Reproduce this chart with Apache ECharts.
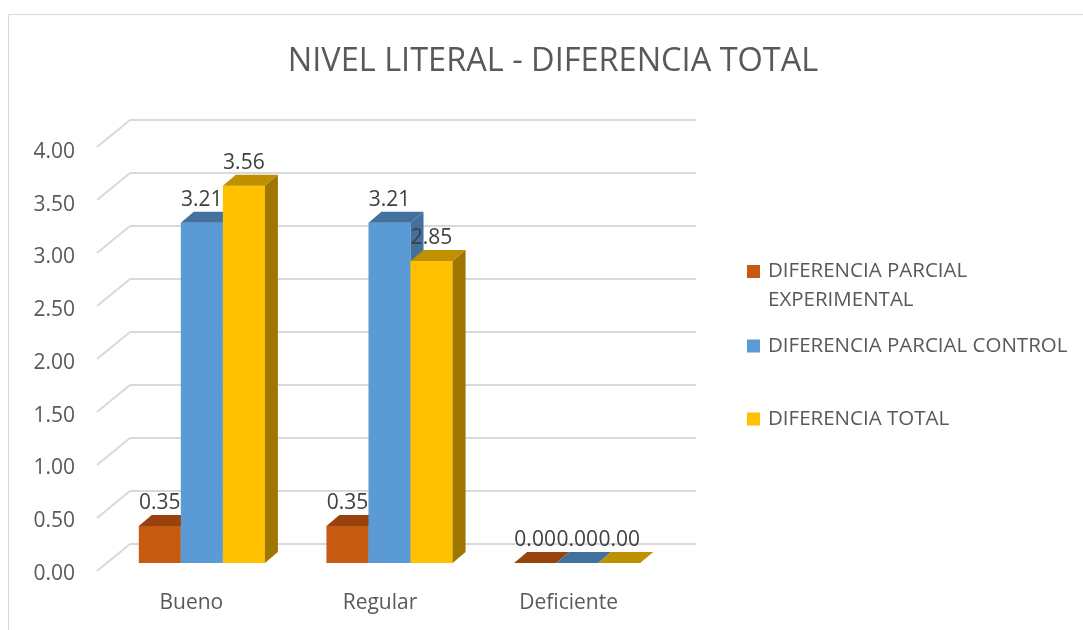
<!DOCTYPE html>
<html>
<head>
<meta charset="utf-8">
<script src="https://cdn.jsdelivr.net/npm/echarts@6/dist/echarts.min.js"></script>
<style>
html,body{margin:0;padding:0;background:#fff;}
#chart{width:1083px;height:630px;}
</style>
</head>
<body>
<div id="chart"></div>
<script>
const categories = ['Bueno', 'Regular', 'Deficiente'];
const seriesNames = ['DIFERENCIA PARCIAL EXPERIMENTAL', 'DIFERENCIA PARCIAL CONTROL', 'DIFERENCIA TOTAL'];
const experimental = [0.35, 0.35, 0.00];
const control = [3.21, 3.21, 0.00];
const total = [3.56, 2.85, 0.00];
const yTicks = [0, 0.5, 1, 1.5, 2, 2.5, 3, 3.5, 4];

const FONT = 'Open Sans';
const frontColors = ['#C55A11', '#5B9BD5', '#FFC000'];
const topColors = ['#98430D', '#41719C', '#BF9000'];
const sideColors = ['#98430D', '#41719C', '#9E7600'];
const DX = 13, DY = -11;

function barRender(k) {
  return function (params, api) {
    const ci = api.value(0), v = api.value(1);
    const base = api.coord([ci, 0]);
    const topP = api.coord([ci, v]);
    const band = api.size([1, 0])[0];
    const bw = band * 0.224;
    const x0 = base[0] - 0.336 * band + k * bw;
    const x1 = x0 + bw;
    const yb = base[1], yt = topP[1];
    return {
      type: 'group',
      children: [
        { type: 'rect', shape: { x: x0, y: yt, width: bw, height: yb - yt }, style: { fill: frontColors[k] } },
        { type: 'polygon', shape: { points: [[x0, yt], [x1, yt], [x1 + DX, yt + DY], [x0 + DX, yt + DY]] }, style: { fill: topColors[k] } },
        { type: 'polygon', shape: { points: [[x1, yt], [x1 + DX, yt + DY], [x1 + DX, yb + DY], [x1, yb]] }, style: { fill: sideColors[k] } },
        { type: 'text', z2: 100, style: { text: v.toFixed(2), x: (x0 + x1) / 2, y: yt - 23, align: 'center', verticalAlign: 'middle', fill: '#404040', font: '21px "' + FONT + '"' } }
      ]
    };
  };
}

const seriesData = [experimental, control, total];
const barSeries = seriesData.map((arr, k) => ({
  type: 'custom',
  name: seriesNames[k],
  xAxisIndex: 0, yAxisIndex: 0,
  itemStyle: { color: frontColors[k] },
  renderItem: barRender(k),
  encode: { x: 0, y: 1 },
  data: arr.map((v, i) => [i, v])
}));

const wallSeries = {
  type: 'custom',
  name: 'wall',
  xAxisIndex: 1, yAxisIndex: 1,
  silent: true,
  renderItem: function (params, api) {
    const p = api.coord([0, api.value(1)]);
    return { type: 'line', shape: { x1: p[0], y1: p[1], x2: p[0] - 33, y2: p[1] + 27 }, style: { stroke: '#D9D9D9', lineWidth: 2 } };
  },
  encode: { x: 0, y: 1 },
  data: yTicks.map(v => [0, v])
};

function legendIcon(tall) {
  return tall
    ? 'path://M0,8H13V21H0Z M0,0h0.01v0.01h-0.01Z M16,58h0.01v0.01h-0.01Z'
    : 'path://M0,8H13V21H0Z M0,0h0.01v0.01h-0.01Z M16,29h0.01v0.01h-0.01Z';
}
const legendText = { fontFamily: FONT, fontSize: 20.5, color: '#595959', lineHeight: 29 };

const option = {
  animation: false,
  backgroundColor: '#fff',
  title: {
    text: 'NIVEL LITERAL - DIFERENCIA TOTAL',
    left: 548, top: 57, textAlign: 'center', textVerticalAlign: 'middle',
    textStyle: { fontFamily: FONT, fontWeight: 'normal', fontSize: 32.5, color: '#595959' }
  },
  graphic: [
    { type: 'rect', shape: { x: 8.5, y: 14.5, width: 1200, height: 800 }, style: { fill: null, stroke: '#D9D9D9', lineWidth: 1 }, silent: true }
  ],
  legend: [
    { data: [seriesNames[0]], left: 747, top: 257, padding: 0, itemWidth: 16, itemHeight: 58, icon: legendIcon(true), selectedMode: false,
      formatter: () => 'DIFERENCIA PARCIAL\nEXPERIMENTAL', textStyle: legendText },
    { data: [seriesNames[1]], left: 747, top: 331.5, padding: 0, itemWidth: 16, itemHeight: 29, icon: legendIcon(false), selectedMode: false, textStyle: legendText },
    { data: [seriesNames[2]], left: 747, top: 404.5, padding: 0, itemWidth: 16, itemHeight: 29, icon: legendIcon(false), selectedMode: false, textStyle: legendText }
  ],
  grid: [
    { left: 108, top: 139, width: 563, height: 424 },
    { left: 130, top: 120, width: 566, height: 424 },
    { left: 97, top: 152, width: 566, height: 422 }
  ],
  xAxis: [
    { gridIndex: 0, type: 'category', data: categories, show: false },
    { gridIndex: 1, type: 'value', min: 0, max: 1, show: false },
    { gridIndex: 2, type: 'category', data: categories, axisLine: { show: false }, axisTick: { show: false },
      axisLabel: { margin: 19, fontFamily: FONT, fontSize: 21, color: '#595959' } }
  ],
  yAxis: [
    { gridIndex: 0, type: 'value', min: 0, max: 4, show: false },
    { gridIndex: 1, type: 'value', min: 0, max: 4, interval: 0.5, axisLine: { show: false }, axisTick: { show: false }, axisLabel: { show: false },
      splitLine: { show: true, lineStyle: { color: '#D9D9D9', width: 2 } } },
    { gridIndex: 2, type: 'value', min: 0, max: 4, interval: 0.5, axisLine: { show: false }, axisTick: { show: false }, splitLine: { show: false },
      axisLabel: { margin: 22, fontFamily: FONT, fontSize: 21, color: '#595959', formatter: v => v.toFixed(2) } }
  ],
  series: [wallSeries].concat(barSeries)
};

const chart = echarts.init(document.getElementById('chart'), null, { renderer: 'canvas' });
chart.setOption(option);
</script>
</body>
</html>
